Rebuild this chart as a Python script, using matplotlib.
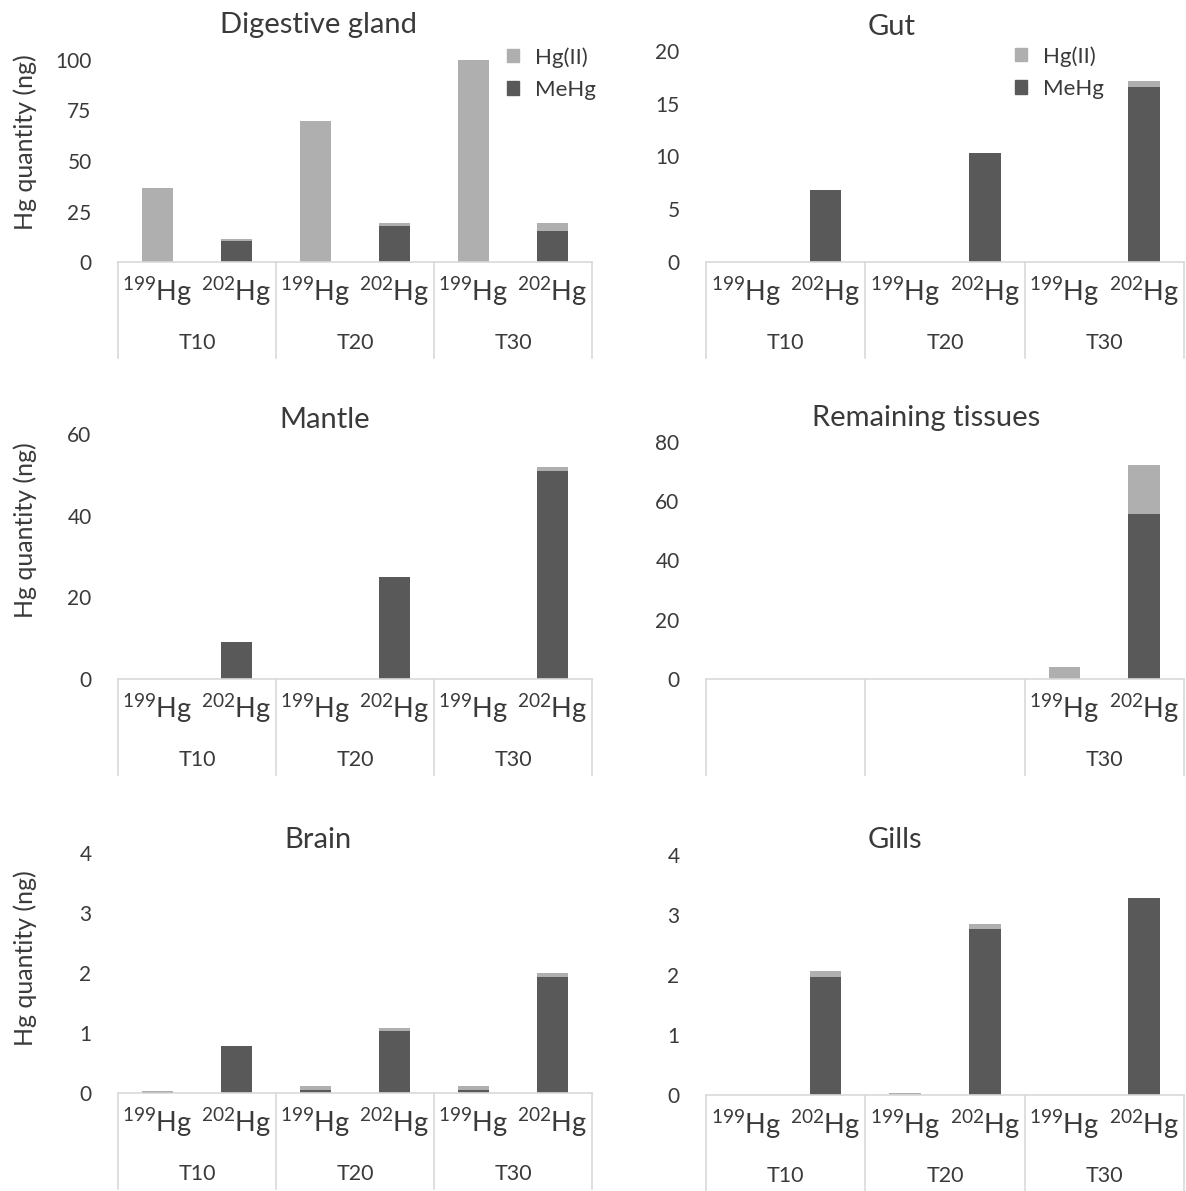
import matplotlib.pyplot as plt
from matplotlib.patches import Patch

plt.rcParams['font.family'] = ['Lato', 'DejaVu Sans']
plt.rcParams['mathtext.fontset'] = 'custom'
plt.rcParams['mathtext.rm'] = 'Lato'

W, H = 1186, 1191

times = ["T10", "T20", "T30"]
isotopes = ["199", "202"]

# bar order: T10-199, T10-202, T20-199, T20-202, T30-199, T30-202
dg_mehg = [0, 10.5, 0, 17.6, 0, 15.5]
dg_hg2 = [36.5, 0.7, 69.9, 1.6, 100.5, 3.7]

gut_mehg = [0, 6.8, 0, 10.36, 0, 16.6]
gut_hg2 = [0, 0, 0, 0, 0, 0.55]

mantle_mehg = [0, 9.0, 0, 25.0, 0, 51.0]
mantle_hg2 = [0, 0.1, 0, 0.1, 0, 0.8]

rem_mehg = [0, 0, 0, 0, 0, 55.7]
rem_hg2 = [0, 0, 0, 0, 3.9, 16.4]

brain_mehg = [0.02, 0.78, 0.05, 1.04, 0.05, 1.93]
brain_hg2 = [0.01, 0, 0.06, 0.04, 0.06, 0.07]

gills_mehg = [0, 1.96, 0, 2.77, 0, 3.29]
gills_hg2 = [0, 0.11, 0.03, 0.08, 0, 0]

HG2_COLOR = "#afafaf"
MEHG_COLOR = "#595959"
LINE_COLOR = "#d9d9d9"
TEXT_COLOR = "#3a3a3a"

# title, mehg, hg2, ymax, step, shown groups, (x0, x1, zero_y, top_y), title pos, legend pos
panels = [
    ("Digestive gland", dg_mehg, dg_hg2, 100, 25, [0, 1, 2], (118, 592, 262, 60), (319, 25), (507, 47)),
    ("Gut", gut_mehg, gut_hg2, 20, 5, [0, 1, 2], (706, 1184, 262, 51), (892, 27), (1015, 46)),
    ("Mantle", mantle_mehg, mantle_hg2, 60, 20, [0, 1, 2], (118, 592, 679, 434), (325, 420), None),
    ("Remaining tissues", rem_mehg, rem_hg2, 80, 20, [2], (706, 1184, 679, 442), (926, 418), None),
    ("Brain", brain_mehg, brain_hg2, 4, 1, [0, 1, 2], (118, 592, 1093, 853), (318, 840), None),
    ("Gills", gills_mehg, gills_hg2, 4, 1, [0, 1, 2], (706, 1184, 1095, 855), (895, 840), None),
]

fig = plt.figure(figsize=(W / 100, H / 100), dpi=100)

for title, mehg, hg2, ymax, step, shown, (x0, x1, zy, ty), (tx, tyy), leg in panels:
    hpx = zy - ty
    ax = fig.add_axes([x0 / W, 1 - zy / H, (x1 - x0) / W, hpx / H])
    pos = list(range(6))
    ax.bar(pos, mehg, width=0.4, color=MEHG_COLOR, label="MeHg")
    ax.bar(pos, hg2, width=0.4, bottom=mehg, color=HG2_COLOR, label="Hg(II)")
    ax.set_xlim(-0.5, 5.5)
    ax.set_ylim(0, ymax)
    ax.set_yticks(range(0, ymax + 1, step))
    for s in ax.spines.values():
        s.set_visible(False)
    ax.set_xticks([])
    ax.tick_params(axis="y", length=0, pad=19, labelsize=15, labelcolor=TEXT_COLOR)

    trans = ax.get_xaxis_transform()
    ax.plot([-0.5, 5.5], [0, 0], transform=trans, color=LINE_COLOR, lw=1.2, clip_on=False)
    for b in [-0.5, 1.5, 3.5, 5.5]:
        ax.plot([b, b], [0, -96 / hpx], transform=trans, color=LINE_COLOR, lw=1.2, clip_on=False)
    for g in shown:
        for k, iso in enumerate(isotopes):
            ax.text(2 * g + k, -30 / hpx, r"$\mathregular{^{" + iso + "}}$Hg",
                    transform=trans, ha="center", va="center", fontsize=19.5, color=TEXT_COLOR)
        ax.text(2 * g + 0.5, -81 / hpx, times[g], transform=trans, ha="center",
                va="center", fontsize=15.5, color=TEXT_COLOR)

    fig.text(tx / W, 1 - tyy / H, title, ha="center", va="center", fontsize=21, color=TEXT_COLOR)

    if leg is not None:
        handles = [Patch(color=HG2_COLOR, label="Hg(II)"), Patch(color=MEHG_COLOR, label="MeHg")]
        fig.legend(handles=handles, loc="upper left", bbox_to_anchor=(leg[0] / W, 1 - leg[1] / H),
                   frameon=False, fontsize=16, handlelength=0.55, handleheight=0.55,
                   handletextpad=0.7, labelspacing=0.55, borderpad=0, borderaxespad=0,
                   labelcolor=TEXT_COLOR)

for cy in [142, 530, 958]:
    fig.text(25 / W, 1 - cy / H, "Hg quantity (ng)", rotation=90, ha="center", va="center",
             fontsize=18, color=TEXT_COLOR)

fig.savefig("out.png", dpi=100)
